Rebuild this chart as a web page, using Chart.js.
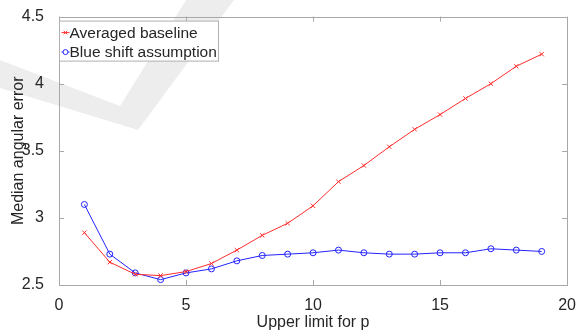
<!DOCTYPE html>
<html>
<head>
<meta charset="utf-8">
<script src="https://cdn.jsdelivr.net/npm/chart.js@4/dist/chart.umd.min.js"></script>
<style>
  html, body { margin: 0; padding: 0; background: #fff; }
  #wrap { width: 579px; height: 332px; position: relative; }
</style>
</head>
<body>
<div id="wrap"><canvas id="chart"></canvas></div>
<script>
// values
var pLimits = [1, 2, 3, 4, 5, 6, 7, 8, 9, 10, 11, 12, 13, 14, 15, 16, 17, 18, 19];
var averagedBaseline = [2.89, 2.67, 2.58, 2.57, 2.60, 2.66, 2.76, 2.87, 2.96, 3.09, 3.27, 3.39, 3.53, 3.66, 3.77, 3.89, 4.00, 4.13, 4.22];
var blueShift = [3.10, 2.73, 2.59, 2.54, 2.59, 2.62, 2.68, 2.72, 2.73, 2.74, 2.76, 2.74, 2.73, 2.73, 2.74, 2.74, 2.77, 2.76, 2.75];
var seriesNames = ["Averaged baseline", "Blue shift assumption"];
var xTicks = [0, 5, 10, 15, 20];
var yTicks = [2.5, 3, 3.5, 4, 4.5];

var FONT = "'Liberation Sans', Arial, Helvetica, sans-serif";
var AXIS_COLOR = "#a8a8a8";
var TEXT_COLOR = "#262626";
var RED = "rgb(255,45,45)";
var BLUE = "rgb(35,35,255)";

function toPoints(ys) {
  var pts = [];
  for (var i = 0; i < pLimits.length; i++) pts.push({x: pLimits[i], y: ys[i]});
  return pts;
}

// faint watermark behind the plot
var watermark = {
  id: "watermark",
  beforeDraw: function (chart) {
    var ctx = chart.ctx;
    ctx.save();
    ctx.fillStyle = "rgba(0,0,0,0.07)";
    ctx.beginPath();
    ctx.moveTo(0, 60);
    ctx.lineTo(120, 106);
    ctx.lineTo(186, 0);
    ctx.lineTo(234, 0);
    ctx.lineTo(138, 130);
    ctx.lineTo(0, 88);
    ctx.closePath();
    ctx.fill();
    ctx.restore();
  }
};

// matlab style box with inward ticks, plus the boxed legend
var matlabBox = {
  id: "matlabBox",
  afterDatasetsDraw: function (chart) {
    var ctx = chart.ctx;
    var a = chart.chartArea;
    var xs = chart.scales.x, ys = chart.scales.y;
    ctx.save();
    ctx.strokeStyle = AXIS_COLOR;
    ctx.lineWidth = 1;
    ctx.strokeRect(Math.round(a.left) + 0.5, Math.round(a.top) + 0.5,
      Math.round(a.right - a.left), Math.round(a.bottom - a.top));
    ctx.beginPath();
    xTicks.forEach(function (v) {
      var px = Math.round(xs.getPixelForValue(v)) + 0.5;
      ctx.moveTo(px, a.bottom); ctx.lineTo(px, a.bottom - 5);
      ctx.moveTo(px, a.top); ctx.lineTo(px, a.top + 5);
    });
    yTicks.forEach(function (v) {
      var py = Math.round(ys.getPixelForValue(v)) + 0.5;
      ctx.moveTo(a.left, py); ctx.lineTo(a.left + 5, py);
      ctx.moveTo(a.right, py); ctx.lineTo(a.right - 5, py);
    });
    ctx.stroke();

    // legend
    var lx = a.left + 0.5, ly = a.top + 4.5, lw = 159, lh = 40;
    ctx.fillStyle = "#fff";
    ctx.fillRect(lx, ly, lw, lh);
    ctx.strokeStyle = "#b0b0b0";
    ctx.strokeRect(lx, ly, lw, lh);
    ctx.font = "15.5px " + FONT;
    ctx.textBaseline = "middle";
    chart.data.datasets.forEach(function (ds, i) {
      var cy = ly + 11.5 + i * 19.5;
      var cx = lx + 6;
      ctx.strokeStyle = ds.borderColor;
      ctx.lineWidth = 1;
      ctx.beginPath();
      ctx.moveTo(cx - 4, cy); ctx.lineTo(cx + 4, cy);
      ctx.stroke();
      ctx.fillStyle = "#fff";
      Chart.helpers.drawPoint(ctx, {pointStyle: ds.pointStyle, radius: 2.5, borderWidth: 1, rotation: 0}, cx, cy);
      ctx.fillStyle = TEXT_COLOR;
      ctx.fillText(ds.label, lx + 10, cy + 1);
    });
    ctx.restore();
  }
};

new Chart(document.getElementById("chart"), {
  type: "line",
  data: {
    datasets: [
      {
        label: seriesNames[0],
        data: toPoints(averagedBaseline),
        borderColor: RED,
        backgroundColor: RED,
        borderWidth: 1,
        pointStyle: "crossRot",
        pointRadius: 3,
        pointBorderWidth: 1,
        tension: 0
      },
      {
        label: seriesNames[1],
        data: toPoints(blueShift),
        borderColor: BLUE,
        backgroundColor: "rgba(0,0,0,0)",
        borderWidth: 1,
        pointStyle: "circle",
        pointRadius: 3,
        pointBorderWidth: 1,
        tension: 0
      }
    ]
  },
  options: {
    responsive: true,
    maintainAspectRatio: false,
    animation: false,
    layout: { padding: { left: 0, top: 15, right: 10, bottom: 0 } },
    plugins: { legend: { display: false }, tooltip: { enabled: false } },
    scales: {
      x: {
        type: "linear",
        min: 0, max: 20,
        afterBuildTicks: function (s) { s.ticks = xTicks.map(function (v) { return {value: v}; }); },
        afterFit: function (s) { s.height = 47; },
        grid: { display: false },
        border: { display: false },
        ticks: { color: TEXT_COLOR, font: { family: FONT, size: 16 }, padding: 3, maxRotation: 0,
          callback: function (v) { return String(v); } },
        title: { display: true, text: "Upper limit for p", color: TEXT_COLOR, font: { family: FONT, size: 16 }, padding: { top: 0, bottom: 0 } }
      },
      y: {
        min: 2.5, max: 4.5,
        afterBuildTicks: function (s) { s.ticks = yTicks.map(function (v) { return {value: v}; }); },
        afterFit: function (s) { s.width = 59; },
        grid: { display: false },
        border: { display: false },
        ticks: { color: TEXT_COLOR, font: { family: FONT, size: 16 }, padding: 7,
          callback: function (v) { return String(v); } },
        title: { display: true, text: "Median angular error", color: TEXT_COLOR, font: { family: FONT, size: 16 }, padding: { top: 9, bottom: 0 } }
      }
    }
  },
  plugins: [watermark, matlabBox]
});
</script>
</body>
</html>
